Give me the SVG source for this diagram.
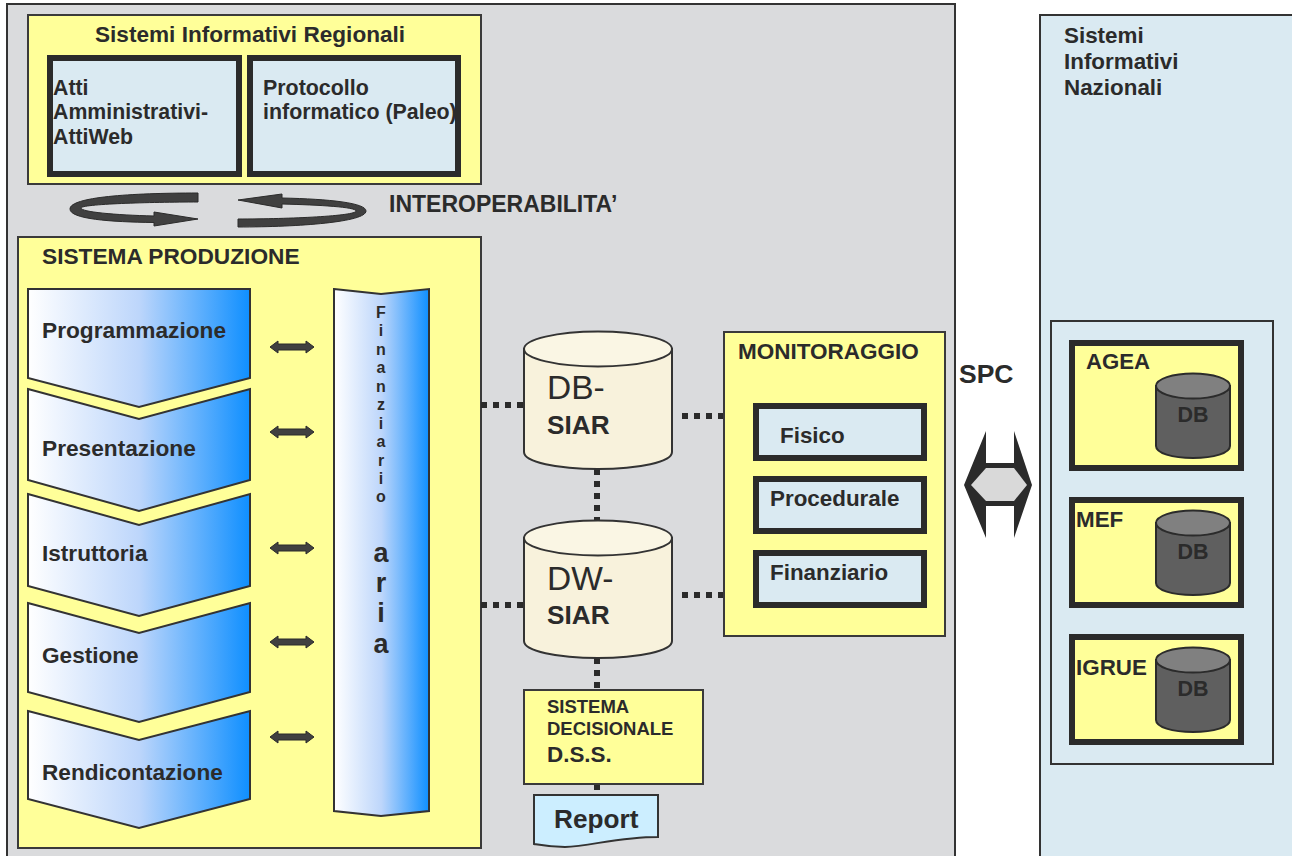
<svg xmlns="http://www.w3.org/2000/svg" width="1292" height="856" viewBox="0 0 1292 856">
<style>
text{font-family:"Liberation Sans",Arial,sans-serif;font-weight:700;fill:#2b2b2b}
.y{fill:#ffff99;stroke:#3a3a3a;stroke-width:2}
.b{fill:#daeaf2;stroke:#2b2b2b;stroke-width:6}
.yb{fill:#ffff99;stroke:#2b2b2b;stroke-width:6}
.p{fill:url(#g);stroke:#333;stroke-width:2}
.d{fill:none;stroke:#2b2b2b;stroke-width:6;stroke-dasharray:6 6}
.c{fill:#f8f2dc;stroke:#333;stroke-width:2}
.ct{fill:#faf6e4;stroke:#333;stroke-width:2}
.k{fill:#5f5f5f;stroke:#2b2b2b;stroke-width:2}
.kt{fill:#808080;stroke:#2b2b2b;stroke-width:2}
.a{fill:#404040;stroke:#2b2b2b;stroke-width:1}
.l{text-anchor:middle;font-size:16px}
.m{text-anchor:middle;font-size:27px}
</style>
<defs>
<linearGradient id="g" x1="0" y1="0" x2="1" y2="0"><stop offset="0" stop-color="#fff"/><stop offset=".5" stop-color="#bdd6fb"/><stop offset="1" stop-color="#0f8fff"/></linearGradient>
<path id="dbl" class="a" d="M0,0 L8,-6 V-3 H36 V-6 L44,0 L36,6 V3 H8 V6 Z"/>
</defs>
<rect id="bg-left" x="7" y="4" width="948" height="870" fill="#dadbdd" stroke="#333" stroke-width="2"/>
<rect id="bg-right" x="1040" y="15" width="270" height="860" fill="#daeaf2" stroke="#333" stroke-width="2"/>

<g id="regionali">
<rect class="y" x="28" y="15" width="453" height="169"/>
<text x="95" y="42" font-size="22.600">Sistemi Informativi Regionali</text>
</g>
<g id="atti">
<rect class="b" x="50" y="58" width="189" height="116"/>
<text font-size="21.300"><tspan x="53" y="95">Atti</tspan><tspan x="53" y="119">Amministrativi-</tspan><tspan x="53" y="144">AttiWeb</tspan></text>
</g>
<g id="protocollo">
<rect class="b" x="250" y="58" width="208" height="116"/>
<text font-size="21.400"><tspan x="263" y="95">Protocollo</tspan><tspan x="263" y="119">informatico (Paleo)</tspan></text>
</g>

<g id="interop">
<path class="a" d="M198,193 V202 C150,202 81,204 81,208 C81,212 115,215 154,216 V212 L198,219 L154,226 V222.500 C110,222 70,219 70,209 C70,197 130,193 198,193 Z"/>
<path class="a" d="M238,200 L282,194 V198 C330,199 366,203 366,211 C366,222 300,227 238,227 V219 C290,219 356,216 356,211 C356,207 320,205 282,204 V208 Z"/>
<text x="389" y="212" font-size="23">INTEROPERABILITA’</text>
</g>

<g id="produzione">
<rect class="y" x="18" y="237" width="463" height="611"/>
<text x="42" y="264" font-size="22.700">SISTEMA PRODUZIONE</text>
</g>
<g id="programmazione">
<path class="p" d="M28,289 H250 V378 L139,407 L28,378 Z"/>
<text x="42" y="338" font-size="22.700">Programmazione</text>
</g>
<g id="presentazione">
<path class="p" d="M28,389 L139,419 L250,389 V480 L139,511 L28,480 Z"/>
<text x="42" y="456" font-size="22.700">Presentazione</text>
</g>
<g id="istruttoria">
<path class="p" d="M28,494 L139,525 L250,494 V586 L139,616 L28,586 Z"/>
<text x="42" y="561" font-size="22.600">Istruttoria</text>
</g>
<g id="gestione">
<path class="p" d="M28,603 L139,633 L250,603 V692 L139,722 L28,692 Z"/>
<text x="42" y="663" font-size="22.600">Gestione</text>
</g>
<g id="rendicontazione">
<path class="p" d="M28,711 L139,740 L250,711 V799 L139,828 L28,799 Z"/>
<text x="42" y="780" font-size="22.600">Rendicontazione</text>
</g>
<g id="finanziaria">
<path class="p" d="M334,289 L381,294 L429,289 V811 L381,816 L334,811 Z"/>
<text x="381" y="318" class="l">F</text>
<text x="381" y="336" class="l">i</text>
<text x="381" y="355" class="l">n</text>
<text x="381" y="373" class="l">a</text>
<text x="381" y="392" class="l">n</text>
<text x="381" y="410" class="l">z</text>
<text x="381" y="429" class="l">i</text>
<text x="381" y="447" class="l">a</text>
<text x="381" y="466" class="l">r</text>
<text x="381" y="484" class="l">i</text>
<text x="381" y="502" class="l">o</text>
<text x="381" y="562" class="m">a</text>
<text x="381" y="592" class="m">r</text>
<text x="381" y="622" class="m">i</text>
<text x="381" y="653" class="m">a</text>
</g>

<g id="connectors">
<use href="#dbl" x="270" y="347"/>
<use href="#dbl" x="270" y="432"/>
<use href="#dbl" x="270" y="548"/>
<use href="#dbl" x="270" y="642"/>
<use href="#dbl" x="270" y="737"/>
<path class="d" d="M481,405 H524"/>
<path class="d" d="M682,416 H724"/>
<path class="d" d="M597,469 V521"/>
<path class="d" d="M481,605 H524"/>
<path class="d" d="M682,595 H724"/>
<path class="d" d="M597,658 V690"/>
<path class="d" stroke-dasharray="none" d="M597,784 V795"/>
</g>

<g id="db-siar">
<path class="c" d="M524,349 V452 C524,462 557,469 598,469 C639,469 672,462 672,452 V349 Z"/>
<ellipse class="ct" cx="598" cy="349" rx="74" ry="17.500"/>
<text x="547" y="399" font-size="33.500" style="font-weight:400">DB-</text>
<text x="547" y="434" font-size="26.200">SIAR</text>
</g>
<g id="dw-siar">
<path class="c" d="M524,538 V641 C524,651 557,658 598,658 C639,658 672,651 672,641 V538 Z"/>
<ellipse class="ct" cx="598" cy="538" rx="74" ry="17.500"/>
<text x="547" y="590" font-size="33.500" style="font-weight:400">DW-</text>
<text x="547" y="624" font-size="26.200">SIAR</text>
</g>
<g id="dss">
<rect class="y" x="524" y="690" width="179" height="94"/>
<text font-size="18.500"><tspan x="547" y="713">SISTEMA</tspan><tspan x="547" y="735">DECISIONALE</tspan></text>
<text x="547" y="762" font-size="22.400">D.S.S.</text>
</g>
<g id="report">
<path d="M534,795 H658 V837 C620,837 590,846 565,847 C550,847 540,845 534,844 Z" fill="#cceeff" stroke="#333" stroke-width="2"/>
<text x="554" y="828" font-size="26.200">Report</text>
</g>

<g id="monitoraggio">
<rect class="y" x="724" y="332" width="221" height="304"/>
<text x="738" y="359" font-size="22.500">MONITORAGGIO</text>
</g>
<g id="fisico">
<rect class="b" x="756" y="406" width="168" height="52"/>
<text x="780" y="443" font-size="22.400">Fisico</text>
</g>
<g id="procedurale">
<rect class="b" x="756" y="479" width="168" height="52"/>
<text x="770" y="506" font-size="22.400">Procedurale</text>
</g>
<g id="finanziario">
<rect class="b" x="756" y="553" width="168" height="52"/>
<text x="770" y="580" font-size="22.400">Finanziario</text>
</g>

<g id="spc">
<text x="959" y="383" font-size="26.500">SPC</text>
<path fill="#2b2b2b" d="M964,485 L986,431 V463 H1014 V431 L1032,485 L1014,538 V506 H986 V538 Z"/>
<path fill="#d9d9d9" d="M971,485 L986,468 H1014 L1027,485 L1014,501 H986 Z"/>
</g>

<g id="nazionali">
<text font-size="22.400"><tspan x="1064" y="43">Sistemi</tspan><tspan x="1064" y="69">Informativi</tspan><tspan x="1064" y="95">Nazionali</tspan></text>
<rect x="1051" y="321" width="222" height="443" fill="#daeaf2" stroke="#333" stroke-width="2"/>
</g>
<g id="agea">
<rect class="yb" x="1072" y="343" width="169" height="125"/>
<text x="1086" y="369" font-size="22.200">AGEA</text>
<path class="k" d="M1156,386 V446 C1156,453 1172,458 1193,458 C1214,458 1230,453 1230,446 V386 Z"/>
<ellipse class="kt" cx="1193" cy="386" rx="37" ry="12.500"/>
<text x="1193" y="422" font-size="21.500" text-anchor="middle">DB</text>
</g>
<g id="mef">
<rect class="yb" x="1072" y="500" width="169" height="105"/>
<text x="1076" y="527" font-size="22.400">MEF</text>
<path class="k" d="M1156,523 V583 C1156,590 1172,595 1193,595 C1214,595 1230,590 1230,583 V523 Z"/>
<ellipse class="kt" cx="1193" cy="523" rx="37" ry="12.500"/>
<text x="1193" y="559" font-size="21.500" text-anchor="middle">DB</text>
</g>
<g id="igrue">
<rect class="yb" x="1072" y="637" width="169" height="105"/>
<text x="1076" y="675" font-size="22.400">IGRUE</text>
<path class="k" d="M1156,660 V720 C1156,727 1172,732 1193,732 C1214,732 1230,727 1230,720 V660 Z"/>
<ellipse class="kt" cx="1193" cy="660" rx="37" ry="12.500"/>
<text x="1193" y="696" font-size="21.500" text-anchor="middle">DB</text>
</g>
</svg>
